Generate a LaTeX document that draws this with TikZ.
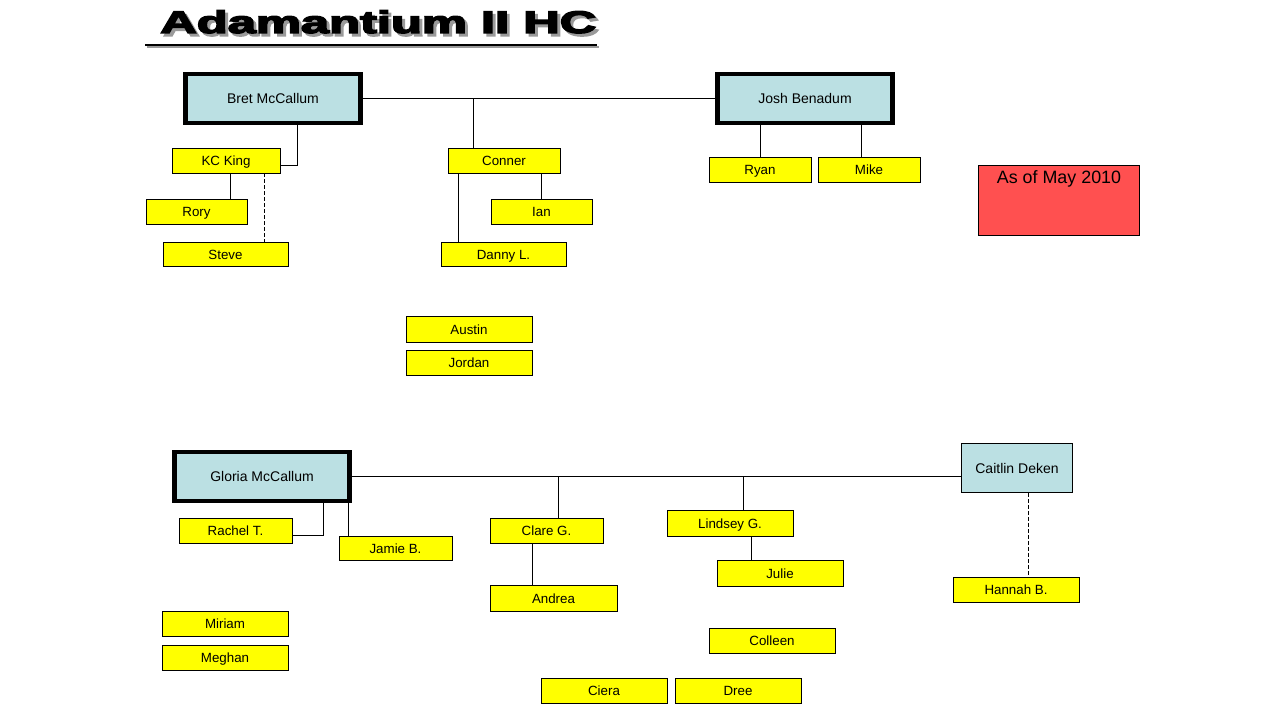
\documentclass[tikz,border=0pt]{standalone}
\usepackage{fontspec}
\setmainfont{Liberation Sans}
\newfontfamily\titlefont{Liberation Sans}[BoldFeatures={FakeBold=4}]
\definecolor{ylw}{HTML}{FFFF00}
\definecolor{lblue}{HTML}{BBE0E3}
\definecolor{notered}{HTML}{FF5050}
\definecolor{shadowgray}{HTML}{9A9A9A}
\newcommand{\titletext}{\resizebox{327pt}{17pt}{\titlefont\bfseries Adamantium II HC}}
\begin{document}
\begin{tikzpicture}[x=0.75pt,y=-0.75pt,
  sz/.style 2 args={minimum width=#1*0.75pt, minimum height=#2*0.75pt},
  yb/.style={draw=black, line width=0.6pt, fill=ylw, inner sep=0pt, text height=8.2pt, text depth=0.6pt, font=\fontsize{10}{12}\selectfont},
  bb/.style={draw=black, line width=3.3pt, fill=lblue, inner sep=0pt, text height=8.4pt, text depth=0.6pt, font=\fontsize{10.5}{12}\selectfont},
  bt/.style={draw=black, line width=0.6pt, fill=lblue, inner sep=0pt, text height=8.4pt, text depth=0.6pt, font=\fontsize{10.5}{12}\selectfont},
  conn/.style={line width=0.6pt},
  dashline/.style={line width=0.6pt, dash pattern=on 3pt off 1.5pt}]
\useasboundingbox[fill=white] (0,0) rectangle (1280,720);

% title (text with its grey shadow)
\node[anchor=base west, inner sep=0pt] (title) at (160,33)
  {\makebox[0pt][l]{\hspace{2.2pt}\raisebox{-2.2pt}{\color{shadowgray}\titletext}}\titletext};
\coordinate (ulA) at (145,45);
\coordinate (ulB) at (597,45);
\draw[shadowgray, line width=2pt] ([shift={(2,2)}]ulA) -- ([shift={(2,2)}]ulB);
\draw[line width=2pt] (ulA) -- (ulB);

% top group
\node[bb, sz={175}{49}] (bret) at (273,98.5) {Bret McCallum};
\node[bb, sz={175}{49}] (josh) at (805,98.5) {Josh Benadum};
\node[yb, sz={108}{25}] (kc) at (226,160.5) {KC King};
\node[yb, sz={101}{25}] (rory) at (196.5,211.5) {Rory};
\node[yb, sz={125}{24}] (steve) at (225.5,254) {Steve};
\node[yb, sz={112}{25}] (conner) at (504,160.5) {Conner};
\node[yb, sz={101}{25}] (ian) at (541.5,211.5) {Ian};
\node[yb, sz={125}{24}] (danny) at (503.5,254) {Danny L.};
\node[yb, sz={102}{25}] (ryan) at (760,169.5) {Ryan};
\node[yb, sz={102}{25}] (mike) at (869,169.5) {Mike};
\node[yb, sz={126}{26}] (austin) at (469,329) {Austin};
\node[yb, sz={126}{25}] (jordan) at (469,362.5) {Jordan};

\node[draw=black, line width=0.6pt, fill=notered, sz={161}{70}, inner sep=0pt] (note) at (1059,200.5) {};
\node[anchor=base, inner sep=0pt, font=\fontsize{13.4}{15}\selectfont] (notetext) at (1059,184) {As of May 2010};

% top connectors
\coordinate (jConner) at (473,98.5);
\coordinate (jKC) at (297,165);
\coordinate (xRory) at (230,0);
\coordinate (xSteve) at (264,0);
\coordinate (xDanny) at (458,0);
\coordinate (xMike) at (861,0);
\draw[conn] (bret.east) -- (josh.west);
\draw[conn] (jConner) -- (jConner |- conner.north);
\draw[conn] (bret.south -| jKC) |- (kc.east |- jKC);
\draw[conn] (kc.south -| xRory) -- (rory.north -| xRory);
\draw[dashline] (kc.south -| xSteve) -- (steve.north -| xSteve);
\draw[conn] (conner.south -| ian.north) -- (ian.north);
\draw[conn] (conner.south -| xDanny) -- (danny.north -| xDanny);
\draw[conn] (josh.south -| ryan.north) -- (ryan.north);
\draw[conn] (josh.south -| xMike) -- (mike.north -| xMike);

% bottom group
\node[bb, sz={175}{49}] (gloria) at (262,476.5) {Gloria McCallum};
\node[bt, sz={111}{49}] (caitlin) at (1017,468) {Caitlin Deken};
\node[yb, sz={113}{25}] (rachel) at (235.5,530.5) {Rachel T.};
\node[yb, sz={113}{24}] (jamie) at (395.5,548) {Jamie B.};
\node[yb, sz={113}{25}] (clare) at (546.5,530.5) {Clare G.};
\node[yb, sz={127}{26}] (andrea) at (553.5,598) {Andrea};
\node[yb, sz={126}{26}] (lindsey) at (730,523) {Lindsey G.};
\node[yb, sz={126}{26}] (julie) at (780,573) {Julie};
\node[yb, sz={126}{25}] (hannah) at (1016,589.5) {Hannah B.};
\node[yb, sz={126}{25}] (miriam) at (225,623.5) {Miriam};
\node[yb, sz={126}{25}] (meghan) at (225,657.5) {Meghan};
\node[yb, sz={126}{25}] (colleen) at (772,640.5) {Colleen};
\node[yb, sz={126}{25}] (ciera) at (604,690.5) {Ciera};
\node[yb, sz={126}{25}] (dree) at (738,690.5) {Dree};

% bottom connectors
\coordinate (jRachel) at (323,535);
\coordinate (xJamie) at (348,0);
\coordinate (jClare) at (558,476.5);
\coordinate (xAndrea) at (532,0);
\coordinate (jLindsey) at (743,476.5);
\coordinate (xJulie) at (751,0);
\coordinate (xHannah) at (1028,0);
\draw[conn] (gloria.east) -- (gloria.east -| caitlin.west);
\draw[conn] (gloria.south -| jRachel) |- (rachel.east |- jRachel);
\draw[conn] (gloria.south -| xJamie) -- (jamie.north -| xJamie);
\draw[conn] (jClare) -- (clare.north -| jClare);
\draw[conn] (clare.south -| xAndrea) -- (andrea.north -| xAndrea);
\draw[conn] (jLindsey) -- (lindsey.north -| jLindsey);
\draw[conn] (lindsey.south -| xJulie) -- (julie.north -| xJulie);
\draw[dashline] (caitlin.south -| xHannah) -- (hannah.north -| xHannah);
\end{tikzpicture}
\end{document}
